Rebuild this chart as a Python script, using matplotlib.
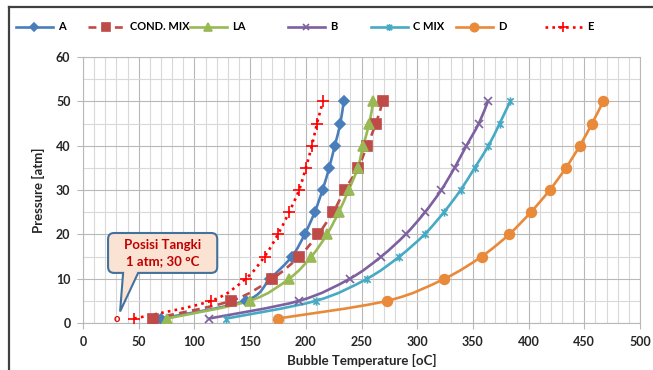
import numpy as np
import matplotlib
matplotlib.use('Agg')
import matplotlib.pyplot as plt
from matplotlib.path import Path
from matplotlib.patches import PathPatch
from matplotlib.lines import Line2D
from matplotlib.ticker import MultipleLocator

plt.rcParams['font.family'] = ['Lato', 'DejaVu Sans']
plt.rcParams['font.weight'] = 'bold'

# ---------------- data ----------------
pressure = [1, 5, 10, 15, 20, 25, 30, 35, 40, 45, 50]
temp_A = [70, 146, 168, 187.5, 199, 208, 215, 221, 226, 231, 234]
temp_cond_mix = [63, 133, 170, 194, 211, 224.5, 235, 247, 255, 263, 269]
temp_LA = [75, 149.5, 185, 205, 219, 229.6, 238.5, 246.7, 251.5, 257, 260.5]
temp_B = [113, 194, 239.5, 267.7, 289.6, 307, 321.6, 333.5, 344.2, 355.3, 363.5]
temp_C_mix = [128.6, 209, 255, 284, 306.6, 324, 339, 351.6, 364, 374, 383.5]
temp_D = [174.7, 273, 324.5, 357.8, 382.5, 402, 419, 433.5, 446, 457, 467]
temp_E = [46, 115, 146, 163, 175, 185, 194, 200, 205.5, 210, 215.5]

series_names = ['A', 'COND. MIX', 'LA', 'B', 'C MIX', 'D', 'E']
series_temps = [temp_A, temp_cond_mix, temp_LA, temp_B, temp_C_mix, temp_D, temp_E]

tank_temp = 30
tank_pressure = 1
callout_text = 'Posisi Tangki\n1 atm; 30 \u00b0C'

x_label = 'Bubble Temperature [oC]'
y_label = 'Pressure [atm]'

# ---------------- styles ----------------
star = Path([(-1, -1), (1, 1), (-1, 1), (1, -1), (0, -1.3), (0, 1.3)],
            [Path.MOVETO, Path.LINETO, Path.MOVETO, Path.LINETO, Path.MOVETO, Path.LINETO])
styles = [
    dict(color='#4A7EBB', marker='D', ms=5.5, ls='-', lms=4.5),
    dict(color='#BE4B48', marker='s', ms=7.5, ls=(0, (3, 2)), lms=6),
    dict(color='#98B954', marker='^', ms=7.5, ls='-', lms=6),
    dict(color='#7D60A0', marker='x', ms=5.5, ls='-', lms=5),
    dict(color='#46AAC5', marker=star, ms=6, ls='-', lms=5),
    dict(color='#E9893A', marker='o', ms=7, ls='-', lms=6),
    dict(color='#FF0000', marker='+', ms=8, ls=(0, (1, 1.6)), lms=7),
]


def smooth_path(xs, ys):
    pts = np.column_stack([xs, ys]).astype(float)
    n = len(pts)
    verts = [pts[0]]
    codes = [Path.MOVETO]
    for i in range(n - 1):
        p0 = pts[max(i - 1, 0)]
        p1 = pts[i]
        p2 = pts[i + 1]
        p3 = pts[min(i + 2, n - 1)]
        c1 = p1 + (p2 - p0) / 6.0
        c2 = p2 - (p3 - p1) / 6.0
        verts += [c1, c2, p2]
        codes += [Path.CURVE4] * 3
    return Path(verts, codes)


W, H = 653, 370
fig = plt.figure(figsize=(W / 100, H / 100), dpi=100)
ax = fig.add_axes([83 / W, 1 - 323 / H, (640 - 83) / W, (323 - 57) / H])

ax.set_xlim(0, 500)
ax.set_ylim(0, 60)
ax.xaxis.set_major_locator(MultipleLocator(50))
ax.xaxis.set_minor_locator(MultipleLocator(10))
ax.yaxis.set_major_locator(MultipleLocator(10))
ax.yaxis.set_minor_locator(MultipleLocator(5))
ax.grid(which='major', color='#B8B8B8', lw=0.8, zorder=0)
ax.grid(which='minor', color='#D9D9D9', lw=0.8, zorder=0)
ax.set_axisbelow(True)
for sp in ax.spines.values():
    sp.set_color('#B8B8B8')
    sp.set_linewidth(0.8)
ax.tick_params(which='major', length=4, color='#B8B8B8', labelsize=9,
               labelcolor='#262626', pad=5)
ax.tick_params(which='minor', length=0)
for lab in ax.get_xticklabels() + ax.get_yticklabels():
    lab.set_fontweight('bold')

handles = []
for name, temps, st in zip(series_names, series_temps, styles):
    lw = 1.9
    patch = PathPatch(smooth_path(temps, pressure), facecolor='none',
                      edgecolor=st['color'], lw=lw, linestyle=st['ls'], zorder=3)
    ax.add_patch(patch)
    mfc = st['color']
    ax.plot(temps, pressure, linestyle='none', marker=st['marker'], ms=st['ms'],
            color=st['color'], mfc=mfc, mec=st['color'], mew=1.2, zorder=4)
    handles.append(Line2D([], [], color=st['color'], lw=lw, linestyle=st['ls'],
                          marker=st['marker'], ms=st['lms'], mew=1.2))

# tank position marker
ax.text(tank_temp, tank_pressure, 'o', color='#E00000', fontsize=8, fontweight='bold',
        ha='center', va='center', zorder=5)

# callout
x0, x1, y0, y1 = 22.5, 120.5, 11.3, 20.3
rx, ry = 5.4, 1.35
bl, br, tip = 36, 49.5, (33.3, 2.6)
verts = [(x0 + rx, y1), (x1 - rx, y1), (x1, y1), (x1, y1 - ry), (x1, y0 + ry),
         (x1, y0), (x1 - rx, y0), (br, y0), tip, (bl, y0), (x0 + rx, y0),
         (x0, y0), (x0, y0 + ry), (x0, y1 - ry), (x0, y1), (x0 + rx, y1), (x0 + rx, y1)]
codes = [Path.MOVETO, Path.LINETO, Path.CURVE3, Path.CURVE3, Path.LINETO,
         Path.CURVE3, Path.CURVE3, Path.LINETO, Path.LINETO, Path.LINETO, Path.LINETO,
         Path.CURVE3, Path.CURVE3, Path.LINETO, Path.CURVE3, Path.CURVE3, Path.CLOSEPOLY]
ax.add_patch(PathPatch(Path(verts, codes), facecolor='#FBE3D3', edgecolor='#41719C',
                       lw=1.5, zorder=6, clip_on=False))
ax.text((x0 + x1) / 2, (y0 + y1) / 2, callout_text, color='#C00000', fontsize=9.5,
        fontweight='bold', ha='center', va='center', linespacing=1.35, zorder=7)

ax.set_xlabel(x_label, fontsize=9.5, fontweight='bold', color='#262626', labelpad=5)
ax.set_ylabel(y_label, fontsize=9.5, fontweight='bold', color='#262626', labelpad=8)

# legend entries positioned individually
legend_x = [16, 88, 190, 288, 371, 456, 545]
for h, name, lx in zip(handles, series_names, legend_x):
    fig.legend([h], [name], loc='center left', bbox_to_anchor=(lx / W, 1 - 27 / H),
               frameon=False, handlelength=3.3, handletextpad=0.5,
               borderpad=0, borderaxespad=0, prop={'weight': 'bold', 'size': 8})

# outer frame (partially visible)
fig.add_artist(Line2D([9 / W, 9 / W], [0, 1 - 7 / H], transform=fig.transFigure,
                      color='#404040', lw=1.6))
fig.add_artist(Line2D([9 / W, 1], [1 - 7 / H, 1 - 7 / H], transform=fig.transFigure,
                      color='#404040', lw=1.6))

fig.savefig('out.png', dpi=100)
